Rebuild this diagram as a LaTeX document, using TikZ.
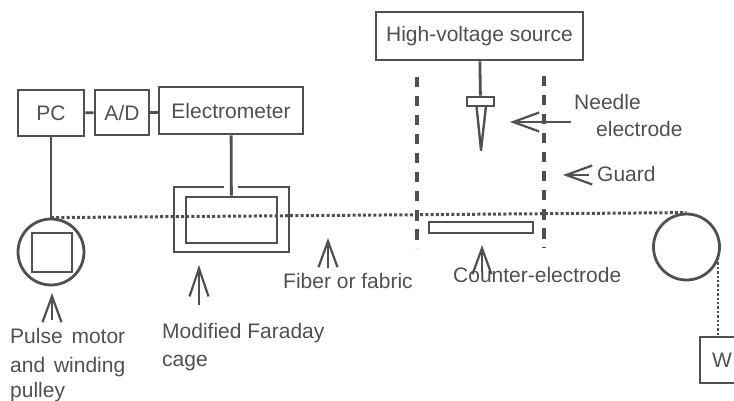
\documentclass[tikz,border=0pt]{standalone}
\usepackage{fontspec}
\setmainfont{Liberation Sans}
\usetikzlibrary{arrows.meta}
\definecolor{ink}{HTML}{505050}
\tikzset{
  x=1pt,y=-1pt,
  every node/.style={font=\fontsize{21}{27}\selectfont,text=ink},
  box/.style={draw=ink,line width=2.8pt,inner sep=0pt},
  wire/.style={draw=ink,line width=2.8pt},
  fiber/.style={draw=ink,line width=3pt,dash pattern=on 3pt off 2.2pt},
  guard/.style={draw=ink,line width=3.2pt,dash pattern=on 10.5pt off 8.5pt},
  caption/.style={inner sep=0pt,anchor=base west},
  pointer/.style={draw=ink,line width=2.2pt,-{Straight Barb[length=#1,width=19pt]}},
  pointer/.default=26pt
}

\begin{document}
\begin{tikzpicture}
  \useasboundingbox (0,0) rectangle (734,401);
  % instruments
  \node (pc) [box,minimum width=66pt,minimum height=46pt] at (51,113) {PC};
  \node (ad) [box,minimum width=54pt,minimum height=45pt] at (122,112.5) {A/D};
  \node (meter) [box,minimum width=144pt,minimum height=47pt] at (231,110.5) {Electrometer};
  \node (source) [box,minimum width=207pt,minimum height=48pt] at (479.5,36) {High-voltage source\hspace{5pt}};
  \node (weight) [box,minimum width=44pt,minimum height=46pt] at (722,360) {W};
  % motor, pulley
  \node (motor) [wire,circle,minimum size=66pt,inner sep=0pt] at (51,252) {};
  \node (square) [box,minimum width=40pt,minimum height=39pt] at (52,252.5) {};
  \node (pulley) [wire,circle,minimum size=66pt,inner sep=0pt] at (686.5,247) {};
  % cage
  \node (inner) [box,minimum width=91pt,minimum height=46pt] at (231.5,220) {};
  \coordinate (gapl) at (224,187);
  \coordinate (gapr) at (238,187);
  \draw[wire] (gapl) -- (174,187) -- (174,252) -- (289,252) -- (289,187) -- (gapr);
  % needle
  \node (holder) [box,minimum width=27pt,minimum height=9pt] at (480.5,101.5) {};
  \coordinate (tip) at (481,150);
  \draw[wire,line join=round,line width=2.4pt] (476.5,106) -- (tip) -- (486,106);
  % counter-electrode
  \node (plate) [box,minimum width=104pt,minimum height=11pt] at (481,227.5) {};
  % connections
  \draw[wire] (pc) -- (ad);
  \draw[wire] (ad) -- (ad-|meter.west);
  \draw[wire] (meter) -- (inner);
  \draw[wire] (pc) -- (motor.north);
  \draw[wire] (source) -- (holder);
  % fiber
  \draw[fiber] (motor.north) -- (pulley.north);
  \coordinate (drop) at (718,258);
  \draw[fiber,line width=2.4pt,dash pattern=on 2.4pt off 2pt] (drop) -- (drop|-weight.north);
  % guard
  \coordinate (gl1) at (417,77);
  \coordinate (gl2) at (417,248);
  \coordinate (gr1) at (544,76);
  \coordinate (gr2) at (544,248);
  \draw[guard] (gl1) -- (gl2);
  \draw[guard] (gr1) -- (gr2);
  % labels
  \node (needle) [caption] at (574,110) {Needle};
  \node (electrode) [caption] at (596,137) {electrode};
  \node (guardtxt) [caption] at (597,182) {Guard};
  \node (countertxt) [caption] at (453,282) {Counter-electrode};
  \node (fibertxt) [caption] at (283,288) {Fiber or fabric};
  \node (faraday) [caption] at (162,338) {Modified Faraday};
  \node (cage) [caption] at (162,366) {cage};
  \node (pulse) [caption] at (10,343) {Pulse\hspace{3pt} motor};
  \node (winding) [caption] at (10,372) {and\hspace{3pt} winding};
  \node (pulleytxt) [caption] at (10,397) {pulley};
  % pointers
  \coordinate (a1) at (571,122);
  \coordinate (a2) at (510,122);
  \coordinate (b1) at (589,175);
  \coordinate (b2) at (563,175);
  \coordinate (c1) at (482,272);
  \coordinate (c2) at (482,245);
  \coordinate (d1) at (328,268);
  \coordinate (d2) at (328,238);
  \coordinate (e1) at (199,305);
  \coordinate (e2) at (199,265);
  \coordinate (f1) at (52,320);
  \coordinate (f2) at (52,293);
  \draw[pointer] (a1) -- (a2);
  \draw[pointer] (b1) -- (b2);
  \draw[pointer] (c1) -- (c2);
  \draw[pointer] (d1) -- (d2);
  \draw[pointer=28pt] (e1) -- (e2);
  \draw[pointer] (f1) -- (f2);
\end{tikzpicture}
\end{document}
